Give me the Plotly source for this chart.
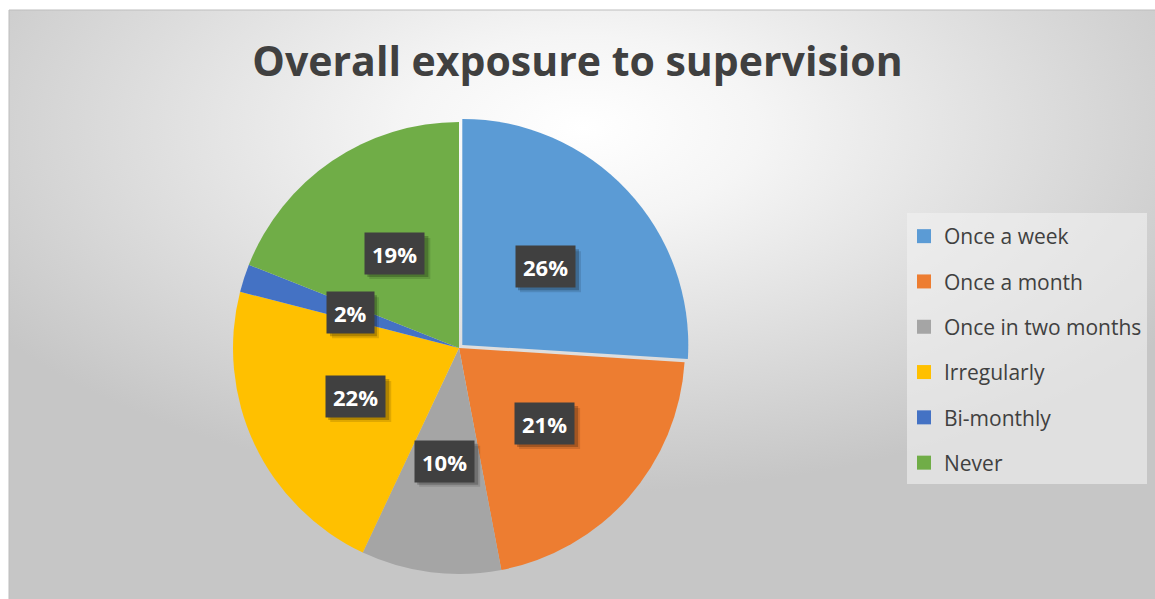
import base64
import math
import plotly.graph_objects as go

# ---- data -------------------------------------------------------------
labels = ["Once a week", "Once a month", "Once in two months",
          "Irregularly", "Bi-monthly", "Never"]
values = [26, 21, 10, 22, 2, 19]
colors = ["#5B9BD5", "#ED7D31", "#A5A5A5", "#FFC000", "#4472C4", "#70AD47"]
pulls = [0.02, 0, 0, 0, 0, 0]
title_text = "Overall exposure to supervision"

# ---- geometry (pixels) ------------------------------------------------
W, H = 1155, 599
AREA_X0, AREA_Y0 = 9, 10          # chart area frame
CX, CY, R = 459, 348, 226          # pie centre and radius
LABEL_FRAC = 0.505                 # data-label distance from centre
max_pull = max(pulls)
half = R * (1 + max_pull)


def px(x):
    return x / W


def py(y):
    return 1 - y / H


# ---- background: soft radial gradient inside the chart frame ----------
aw, ah = W - AREA_X0, H - AREA_Y0
svg = (
    f"<svg xmlns='http://www.w3.org/2000/svg' width='{aw}' height='{ah}' "
    f"viewBox='0 0 {aw} {ah}' preserveAspectRatio='none'>"
    "<defs><radialGradient id='g' cx='0.5' cy='0.2' r='0.62'>"
    "<stop offset='0' stop-color='#ffffff'/>"
    "<stop offset='0.25' stop-color='#f5f5f5'/>"
    "<stop offset='1' stop-color='#c6c6c6'/>"
    "</radialGradient></defs>"
    f"<rect width='{aw}' height='{ah}' fill='url(#g)'/></svg>"
)
bg_src = "data:image/svg+xml;base64," + base64.b64encode(svg.encode()).decode()

fig = go.Figure()

fig.add_trace(go.Pie(
    labels=labels,
    values=values,
    marker=dict(colors=colors, line=dict(width=0)),
    pull=pulls,
    sort=False,
    direction="clockwise",
    rotation=0,
    textinfo="none",
    hoverinfo="label+percent",
    showlegend=False,
    domain=dict(x=[px(CX - half), px(CX + half)],
                y=[py(CY + half), py(CY - half)]),
))

# legend entries with square swatches
for lab, col in zip(labels, colors):
    fig.add_trace(go.Scatter(
        x=[None], y=[None], mode="markers", name=lab, legendgroup=lab,
        marker=dict(symbol="square", size=14, color=col),
        hoverinfo="skip",
    ))

# ---- data labels: dark boxes placed along each slice's bisector -------
total = sum(values)
annotations = []
shapes = []
cum = 0.0
for v, p in zip(values, pulls):
    mid = (cum + v / 2) / total * 2 * math.pi
    cum += v
    dist = R * LABEL_FRAC + p * R
    lx = CX + dist * math.sin(mid)
    ly = CY - dist * math.cos(mid)
    text = f"{v}%"
    bw = 14 * len(text) + 19
    bh = 41
    # drop shadow (two soft layers)
    for off, alpha in ((5, 0.12), (3, 0.22)):
        shapes.append(dict(
            type="rect", layer="above",
            xref="paper", yref="paper",
            xsizemode="pixel", ysizemode="pixel",
            xanchor=px(lx), yanchor=py(ly),
            x0=-bw / 2 + off, x1=bw / 2 + off,
            y0=-bh / 2 - off, y1=bh / 2 - off,
            fillcolor=f"rgba(0,0,0,{alpha})", line=dict(width=0),
        ))
    annotations.append(dict(
        x=px(lx), y=py(ly), xref="paper", yref="paper",
        text=f"<b>{text}</b>", showarrow=False,
        font=dict(family="Open Sans", size=22, color="#ffffff"),
        bgcolor="#404040", borderpad=7, height=27,
        xanchor="center", yanchor="middle",
    ))

# legend panel and chart frame
shapes.append(dict(
    type="rect", layer="below", xref="paper", yref="paper",
    x0=px(907), x1=px(1147), y0=py(484), y1=py(213),
    fillcolor="rgba(242,242,242,0.6)", line=dict(width=0),
))
shapes.append(dict(
    type="rect", layer="below", xref="paper", yref="paper",
    x0=px(AREA_X0), x1=px(W + 2), y0=py(H + 2), y1=py(AREA_Y0),
    fillcolor="rgba(0,0,0,0)", line=dict(color="#bdbdbd", width=1),
))

fig.update_layout(
    width=W, height=H,
    margin=dict(l=0, r=0, t=0, b=0),
    paper_bgcolor="#ffffff",
    plot_bgcolor="rgba(0,0,0,0)",
    images=[dict(
        source=bg_src, xref="paper", yref="paper",
        x=px(AREA_X0), y=py(AREA_Y0), sizex=aw / W, sizey=ah / H,
        xanchor="left", yanchor="top", sizing="stretch", layer="below",
    )],
    title=dict(
        text=f"<b>{title_text}</b>",
        x=0.5, xanchor="center", y=py(62), yanchor="middle",
        font=dict(family="Open Sans", size=41, color="#404040"),
    ),
    xaxis=dict(visible=False),
    yaxis=dict(visible=False),
    legend=dict(
        x=px(904), y=py(216), xanchor="left", yanchor="top",
        bgcolor="rgba(0,0,0,0)",
        font=dict(family="Open Sans", size=21, color="#404040"),
        tracegroupgap=15, itemclick=False, itemdoubleclick=False,
    ),
    annotations=annotations,
    shapes=shapes,
)

fig.write_html("out.html")
